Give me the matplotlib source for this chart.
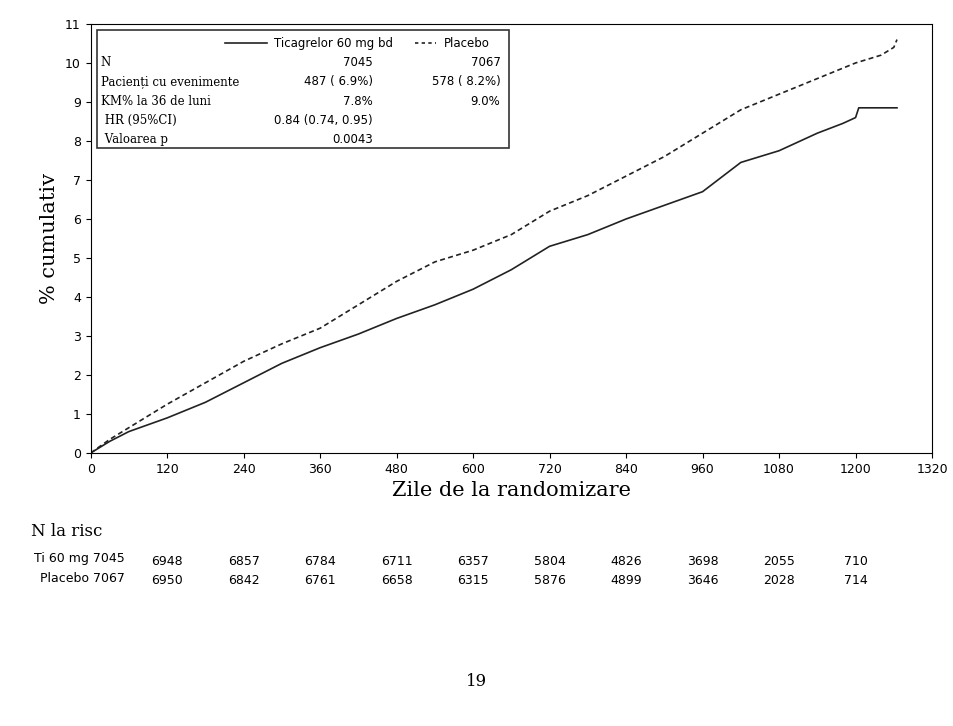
import matplotlib.pyplot as plt

days_t = [0, 30, 60, 120, 180, 240, 300, 360, 420, 480, 540, 600, 660, 720, 780, 840, 900, 960, 1020, 1080, 1140, 1180, 1200, 1205, 1265]
tica = [0, 0.3, 0.55, 0.9, 1.3, 1.8, 2.3, 2.7, 3.05, 3.45, 3.8, 4.2, 4.7, 5.3, 5.6, 6.0, 6.35, 6.7, 7.45, 7.75, 8.2, 8.45, 8.6, 8.85, 8.85]
days_p = [0, 30, 60, 120, 180, 240, 300, 360, 420, 480, 540, 600, 660, 720, 780, 840, 900, 960, 1020, 1080, 1140, 1200, 1240, 1260, 1265]
plac = [0, 0.35, 0.65, 1.25, 1.8, 2.35, 2.8, 3.2, 3.8, 4.4, 4.9, 5.2, 5.6, 6.2, 6.6, 7.1, 7.6, 8.2, 8.8, 9.2, 9.6, 10.0, 10.2, 10.4, 10.6]

risk_days = [120, 240, 360, 480, 600, 720, 840, 960, 1080, 1200]
risk_t = [6948, 6857, 6784, 6711, 6357, 5804, 4826, 3698, 2055, 710]
risk_p = [6950, 6842, 6761, 6658, 6315, 5876, 4899, 3646, 2028, 714]

fig = plt.figure(figsize=(9.54, 7.26), dpi=100)
ax = fig.add_axes([0.095, 0.376, 0.882, 0.591])
ax.plot(days_t, tica, color='#222222', lw=1.2)
ax.plot(days_p, plac, color='#222222', lw=1.2, ls=(0, (3, 2)))
ax.set_xlim(0, 1320)
ax.set_ylim(0, 11)
ax.set_xticks(range(0, 1321, 120))
ax.set_yticks(range(0, 12))
ax.tick_params(labelsize=9, direction='out')
ax.set_xlabel('Zile de la randomizare', family='DejaVu Serif', fontsize=15)
ax.set_ylabel('% cumulativ', family='DejaVu Serif', fontsize=15)

# legend / stats box
box = plt.Rectangle((0.007, 0.71), 0.49, 0.275, transform=ax.transAxes, fill=False, lw=1.2, color='#333333')
ax.add_patch(box)
ax.plot([0.16, 0.21], [0.955, 0.955], transform=ax.transAxes, color='#222222', lw=1.2)
ax.plot([0.385, 0.41], [0.955, 0.955], transform=ax.transAxes, color='#222222', lw=1.2, ls=(0, (2, 2)))
ax.text(0.218, 0.955, 'Ticagrelor 60 mg bd', transform=ax.transAxes, fontsize=8.5, va='center')
ax.text(0.42, 0.955, 'Placebo', transform=ax.transAxes, fontsize=8.5, va='center')
rows = ['N', 'Pacienți cu evenimente', 'KM% la 36 de luni', ' HR (95%CI)', ' Valoarea p']
col1 = ['7045', '487 ( 6.9%)', '7.8%', '0.84 (0.74, 0.95)', '0.0043']
col2 = ['7067', '578 ( 8.2%)', '9.0%', '', '']
for i in range(5):
    y = 0.91 - i * 0.045
    ax.text(0.012, y, rows[i], transform=ax.transAxes, fontsize=8.5, family='DejaVu Serif', va='center')
    ax.text(0.335, y, col1[i], transform=ax.transAxes, fontsize=8.5, va='center', ha='right')
    ax.text(0.487, y, col2[i], transform=ax.transAxes, fontsize=8.5, va='center', ha='right')

# number at risk
fig.text(0.033, 0.262, 'N la risc', family='DejaVu Serif', fontsize=12)
fig.text(0.131, 0.231, 'Ti 60 mg 7045', fontsize=9, ha='right', va='center')
fig.text(0.131, 0.203, 'Placebo 7067', fontsize=9, ha='right', va='center')
tr = ax.get_xaxis_transform()
for d, a, b in zip(risk_days, risk_t, risk_p):
    ax.text(d, -0.252, str(a), transform=tr, fontsize=9, ha='center', va='center', clip_on=False)
    ax.text(d, -0.296, str(b), transform=tr, fontsize=9, ha='center', va='center', clip_on=False)

fig.text(0.5, 0.055, '19', family='DejaVu Serif', fontsize=12, ha='center')
fig.savefig('out.png', dpi=100)
